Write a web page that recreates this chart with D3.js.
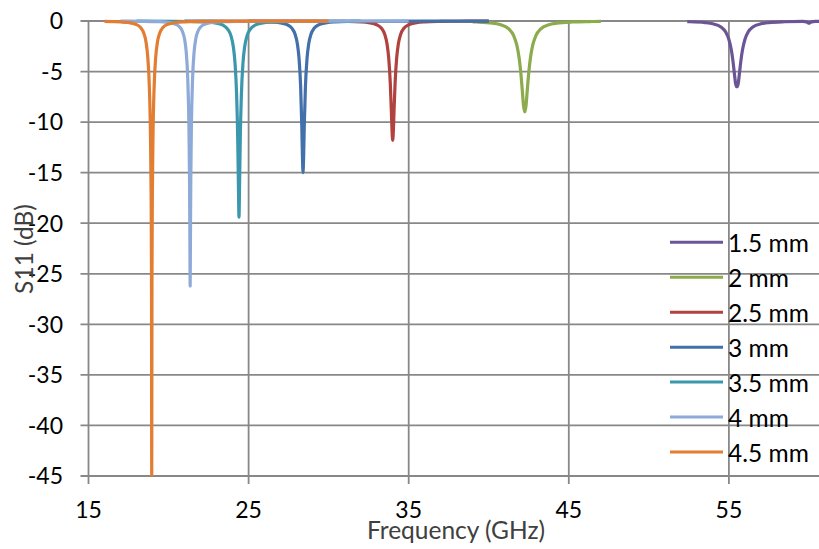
<!DOCTYPE html>
<html><head><meta charset="utf-8">
<script src="https://cdn.jsdelivr.net/npm/d3@7"></script>
<style>body{margin:0;background:#fff} svg{display:block}</style>
</head><body>
<svg id="chart" width="819" height="549"></svg>
<script>
// ---- data (frequency in GHz, S11 in dB) ----
const freq_15 = [52.4, 52.5, 53.5, 54, 54.5, 54.8, 55.0, 55.15, 55.25, 55.35, 55.42, 55.5, 55.58, 55.65, 55.75, 55.85, 56.0, 56.2, 56.5, 57, 57.5, 58.5, 59.6, 59.9, 60.0, 60.1, 60.4, 62, 65];
const s11_15  = [-0.068, -0.0725, -0.160, -0.279, -0.592, -1.093, -1.825, -2.853, -3.92, -5.30, -6.21, -6.5, -6.21, -5.30, -3.92, -2.853, -1.825, -1.093, -0.592, -0.279, -0.160, -0.0725, -0.04, -0.12, -0.22, -0.12, -0.03, -0.02, -0.01];

const freq_20 = [39, 39.25, 40.25, 40.75, 41.25, 41.55, 41.75, 41.9, 42.0, 42.1, 42.17, 42.25, 42.33, 42.4, 42.5, 42.6, 42.75, 42.95, 43.25, 43.75, 44.25, 45.25, 46.25, 47];
const s11_20  = [-0.082, -0.096, -0.212, -0.369, -0.779, -1.43, -2.37, -3.69, -5.08, -6.97, -8.34, -9.0, -8.34, -6.97, -5.08, -3.69, -2.37, -1.43, -0.779, -0.369, -0.212, -0.096, -0.054, -0.039];

const freq_25 = [25, 30, 31, 32, 32.5, 33, 33.3, 33.5, 33.65, 33.75, 33.85, 33.92, 33.96, 34.0, 34.04, 34.08, 34.15, 34.25, 34.35, 34.5, 34.7, 35, 35.5, 36, 37, 38, 40];
const s11_25  = [-0.004, -0.024, -0.043, -0.094, -0.169, -0.371, -0.721, -1.303, -2.30, -3.63, -6.14, -9.05, -10.89, -11.8, -10.89, -9.05, -6.14, -3.63, -2.30, -1.303, -0.721, -0.371, -0.169, -0.094, -0.043, -0.024, -0.009];

const freq_30 = [21, 24.4, 25.4, 26.4, 26.9, 27.4, 27.7, 27.9, 28.05, 28.15, 28.25, 28.32, 28.36, 28.4, 28.44, 28.48, 28.55, 28.65, 28.75, 28.9, 29.1, 29.4, 29.9, 30.4, 31.4, 32.4, 36, 40];
const s11_30  = [-0.007, -0.023, -0.042, -0.092, -0.165, -0.362, -0.707, -1.287, -2.30, -3.69, -6.48, -10.21, -13.2, -15.0, -13.2, -10.21, -6.48, -3.69, -2.30, -1.287, -0.707, -0.362, -0.165, -0.092, -0.042, -0.023, -0.006, -0.003];

const freq_35 = [18, 20.4, 21.4, 22.4, 22.9, 23.4, 23.7, 23.9, 24.05, 24.15, 24.25, 24.32, 24.36, 24.4, 24.44, 24.48, 24.55, 24.65, 24.75, 24.9, 25.1, 25.4, 25.9, 26.4, 27.4, 28.4, 32];
const s11_35  = [-0.011, -0.027, -0.049, -0.109, -0.191, -0.418, -0.818, -1.471, -2.60, -4.13, -7.23, -11.59, -15.78, -19.4, -15.78, -11.59, -7.23, -4.13, -2.60, -1.471, -0.818, -0.418, -0.191, -0.109, -0.049, -0.027, -0.007];

const freq_40 = [17, 18.35, 19.35, 19.85, 20.35, 20.65, 20.85, 21.0, 21.1, 21.2, 21.27, 21.31, 21.335, 21.35, 21.365, 21.39, 21.43, 21.5, 21.6, 21.7, 21.85, 22.05, 22.35, 22.85, 23.35, 24.35, 26, 30, 35];
const s11_40  = [-0.015, -0.030, -0.066, -0.119, -0.263, -0.520, -0.967, -1.785, -3.00, -5.74, -10.22, -15.64, -22.3, -26.2, -22.3, -15.64, -10.22, -5.74, -3.00, -1.785, -0.967, -0.520, -0.263, -0.119, -0.066, -0.030, -0.012, -0.004, -0.0014];

const freq_45 = [16, 17, 17.45, 17.95, 18.25, 18.45, 18.6, 18.7, 18.8, 18.87, 18.91, 18.935, 18.95, 18.965, 18.99, 19.03, 19.1, 19.2, 19.3, 19.45, 19.65, 19.95, 20.45, 21, 22, 24, 27, 30];
const s11_45  = [-0.04, -0.093, -0.149, -0.328, -0.644, -1.184, -2.147, -3.536, -6.52, -11.22, -16.99, -25.4, -45, -25.4, -16.99, -11.22, -6.52, -3.536, -2.147, -1.184, -0.644, -0.328, -0.149, -0.08, -0.037, -0.013, -0.005, -0.003];

const seriesNames = ["1.5 mm", "2 mm", "2.5 mm", "3 mm", "3.5 mm", "4 mm", "4.5 mm"];
const xTicks = [15, 25, 35, 45, 55];
const xTickLabels = ["15", "25", "35", "45", "55"];
const yTicks = [0, -5, -10, -15, -20, -25, -30, -35, -40, -45];
const yTickLabels = ["0", "-5", "-10", "-15", "-20", "-25", "-30", "-35", "-40", "-45"];
const xTitle = "Frequency (GHz)";
const yTitle = "S11 (dB)";

// ---- styles ----
const colors = ["#6b5597", "#8cab4c", "#b0433f", "#4270aa", "#3b97ad", "#8eaad8", "#e27d32"];
const gridColor = "#888888";
const FONT = "Lato, 'Open Sans', sans-serif";

const freqs = [freq_15, freq_20, freq_25, freq_30, freq_35, freq_40, freq_45];
const vals = [s11_15, s11_20, s11_25, s11_30, s11_35, s11_40, s11_45];
const series = seriesNames.map((name, i) => ({
  name, color: colors[i],
  points: freqs[i].map((f, j) => ({f, v: vals[i][j]}))
}));

const W = 819, H = 549;
const svg = d3.select("#chart");
const x = d3.scaleLinear().domain([15, 65]).range([88.5, 889]);
const y = d3.scaleLinear().domain([-45, 0]).range([476, 21]);
const plotLeft = x(15), plotBottom = y(-45), plotTop = y(0);

// gridlines
const g = svg.append("g");
g.selectAll(".hg").data(yTicks).enter().append("line")
  .attr("x1", plotLeft - 8).attr("x2", W)
  .attr("y1", d => y(d)).attr("y2", d => y(d))
  .attr("stroke", gridColor).attr("stroke-width", 1.8);
g.selectAll(".vg").data(xTicks).enter().append("line")
  .attr("x1", d => x(d)).attr("x2", d => x(d))
  .attr("y1", plotTop).attr("y2", plotBottom + 8)
  .attr("stroke", gridColor).attr("stroke-width", 1.8);

// tick labels
svg.append("g").selectAll("text").data(yTicks).enter().append("text")
  .attr("x", 63).attr("y", d => y(d)).attr("dy", "0.36em")
  .attr("text-anchor", "end")
  .style("font-family", FONT).style("font-size", "23px").attr("fill", "#000")
  .text((d, i) => yTickLabels[i]);
svg.append("g").selectAll("text").data(xTicks).enter().append("text")
  .attr("x", d => x(d)).attr("y", 518)
  .attr("text-anchor", "middle")
  .style("font-family", FONT).style("font-size", "23px").attr("fill", "#000")
  .text((d, i) => xTickLabels[i]);

// series
svg.append("defs").append("clipPath").attr("id", "clip")
  .append("rect").attr("x", plotLeft).attr("y", 0).attr("width", W - plotLeft).attr("height", plotBottom + 0.5);
const line = d3.line().x(d => x(d.f)).y(d => y(d.v)).curve(d3.curveMonotoneX);
svg.append("g").attr("clip-path", "url(#clip)")
  .selectAll("path").data(series).enter().append("path")
  .attr("d", d => line(d.points))
  .attr("fill", "none").attr("stroke", d => d.color)
  .attr("stroke-width", 3.2).attr("stroke-linejoin", "round");

// legend
const lg = svg.append("g").selectAll("g").data(series).enter().append("g")
  .attr("transform", (d, i) => `translate(0,${242.3 + i * 34.95})`);
lg.append("line").attr("x1", 670).attr("x2", 723).attr("y1", 0).attr("y2", 0)
  .attr("stroke", d => d.color).attr("stroke-width", 3);
lg.append("text").attr("x", 728).attr("y", 9.5)
  .style("font-family", FONT).style("font-size", "24.5px").attr("fill", "#000")
  .text(d => d.name);

// axis titles
svg.append("text").attr("x", 456).attr("y", 539).attr("text-anchor", "middle")
  .style("font-family", FONT).style("font-size", "24.5px").attr("fill", "#404040")
  .text(xTitle);
svg.append("text").attr("transform", "translate(33,249) rotate(-90)").attr("text-anchor", "middle")
  .style("font-family", FONT).style("font-size", "24.5px").attr("fill", "#404040")
  .text(yTitle);
</script>
</body></html>
